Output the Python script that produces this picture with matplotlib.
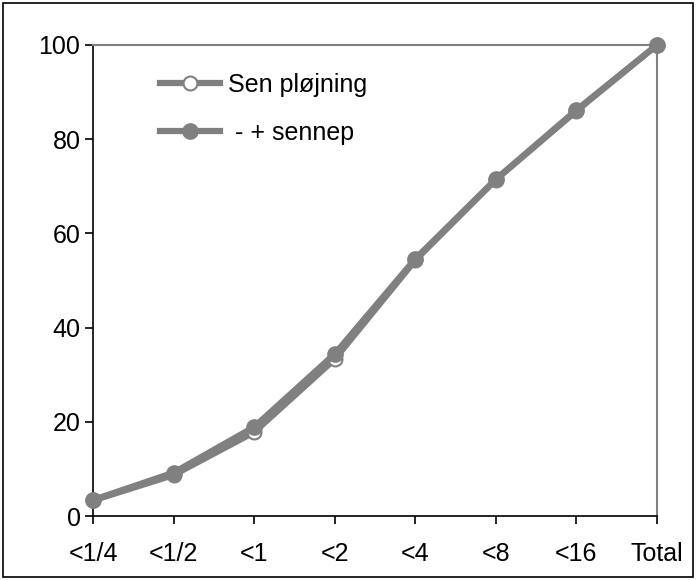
import matplotlib
matplotlib.use("Agg")
import matplotlib.pyplot as plt
from matplotlib.patches import Rectangle

plt.rcParams['font.family'] = ['Liberation Sans', 'DejaVu Sans']

categories = ["<1/4", "<1/2", "<1", "<2", "<4", "<8", "<16", "Total"]
sen_plojning = [3.3, 8.7, 17.8, 33.3, 54.3, 71.4, 86.0, 100.0]
sennep = [3.4, 9.2, 18.9, 34.4, 54.6, 71.5, 86.2, 100.0]
yticks = [0, 20, 40, 60, 80, 100]

fig = plt.figure(figsize=(6.97, 5.80), dpi=100)
ax = fig.add_axes([93/697, 1-516/580, (657-93)/697, (516-45)/580])

x = list(range(len(categories)))
gray = "#808080"
ax.plot(x, sen_plojning, color=gray, lw=4.5, marker='o', ms=10,
        mfc='white', mec=gray, mew=1.5, label="Sen pløjning", clip_on=False, zorder=3)
ax.plot(x, sennep, color=gray, lw=4.5, marker='o', ms=11,
        mfc=gray, mec=gray, label=" - + sennep", clip_on=False, zorder=4)

ax.set_xlim(0, len(categories)-1)
ax.set_ylim(0, 100)
ax.set_xticks(x)
ax.set_xticklabels(categories)
ax.set_yticks(yticks)
ax.tick_params(axis='both', direction='out', length=6, width=1.2, labelsize=18, color='black')
ax.tick_params(axis='x', pad=13)
ax.tick_params(axis='y', pad=3)
for s in ['left', 'bottom']:
    ax.spines[s].set_color('black')
    ax.spines[s].set_linewidth(1.2)
for s in ['top', 'right']:
    ax.spines[s].set_color(gray)
    ax.spines[s].set_linewidth(1.5)

leg = ax.legend(loc='upper left', bbox_to_anchor=(0.119, 0.941), frameon=False,
                fontsize=18, handlelength=2.4, handletextpad=0.3, labelspacing=0.95,
                borderaxespad=0, borderpad=0)

fig.patches.append(Rectangle((3/697, 3/580), 690/697, 574/580, transform=fig.transFigure,
                             fill=False, edgecolor='black', lw=1.2))

fig.savefig("out.png", dpi=100)
